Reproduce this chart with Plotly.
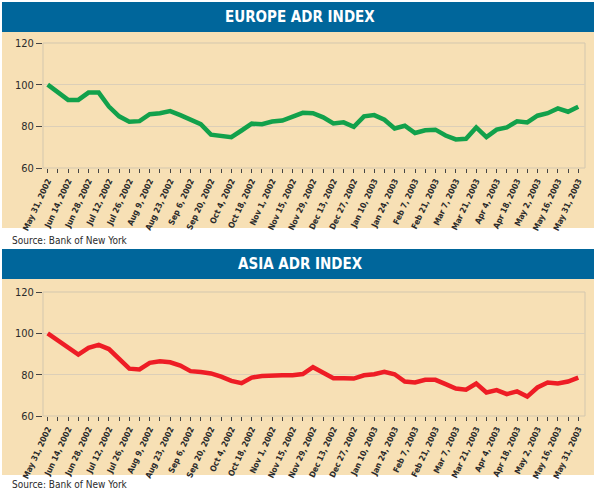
import plotly.graph_objects as go

# ---- data ----
tick_labels = [
    "May 31, 2002", "Jun 14, 2002", "Jun 28, 2002", "Jul 12, 2002", "Jul 26, 2002",
    "Aug 9, 2002", "Aug 23, 2002", "Sep 6, 2002", "Sep 20, 2002", "Oct 4, 2002",
    "Oct 18, 2002", "Nov 1, 2002", "Nov 15, 2002", "Nov 29, 2002", "Dec 13, 2002",
    "Dec 27, 2002", "Jan 10, 2003", "Jan 24, 2003", "Feb 7, 2003", "Feb 21, 2003",
    "Mar 7, 2003", "Mar 21, 2003", "Apr 4, 2003", "Apr 18, 2003", "May 2, 2003",
    "May 16, 2003", "May 31, 2003",
]
europe = [100, 96.3, 92.7, 92.7, 96.2, 96.2, 89.5, 84.8, 82.2, 82.5,
          85.8, 86.3, 87.3, 85.4, 83.0, 81.0, 76.0, 75.5, 74.8, 78.0,
          81.3, 81.0, 82.3, 82.8, 84.8, 86.5, 86.3, 84.3, 81.4, 81.9,
          79.8, 84.8, 85.4, 83.2, 79.0, 80.3, 76.8, 78.1, 78.4, 75.6,
          73.7, 74.0, 79.5, 74.8, 78.4, 79.5, 82.4, 81.9, 85.1, 86.3,
          88.6, 87.0, 89.4]
asia = [100, 96.5, 93.0, 89.7, 93.0, 94.4, 92.4, 87.6, 82.9, 82.5,
        85.7, 86.5, 86.0, 84.4, 81.7, 81.3, 80.6, 79.0, 77.0, 75.9,
        78.6, 79.4, 79.7, 79.7, 79.7, 80.3, 83.6, 81.0, 78.3, 78.3,
        78.1, 79.7, 80.2, 81.4, 80.2, 76.7, 76.2, 77.5, 77.5, 75.4,
        73.3, 72.7, 75.7, 71.4, 72.5, 70.6, 71.9, 69.4, 73.8, 76.2,
        75.7, 76.7, 78.6]
y_ticks = [60, 80, 100, 120]

weeks = list(range(len(europe)))
tickvals = weeks
ticktext = [tick_labels[i // 2] if i % 2 == 0 else "" for i in weeks]

W, H = 600, 493
def py(p):
    return 1 - p / H

BLUE = "#00669B"
TAN = "#F7E0B5"
CREAM = "#FBF1E1"
GRID = "#DCCFB8"
TXT = "#2b2b2b"
FONT = "Liberation Sans Narrow, DejaVu Sans Condensed, Arial Narrow, sans-serif"

fig = go.Figure()
fig.add_trace(go.Scatter(x=weeks, y=europe, mode="lines", xaxis="x", yaxis="y",
                         line=dict(color="#12A14B", width=4.5), hoverinfo="skip"))
fig.add_trace(go.Scatter(x=weeks, y=asia, mode="lines", xaxis="x2", yaxis="y2",
                         line=dict(color="#EE1D25", width=4.5), hoverinfo="skip"))

x0, x1 = 43, 585
panels = [
    dict(ban=(2, 32), tan=(32, 228), plot=(43, 168), title="EUROPE ADR INDEX", src=240),
    dict(ban=(249, 279), tan=(279, 475), plot=(292, 416), title="ASIA ADR INDEX", src=484),
]

shapes = []
annotations = []
for p in panels:
    shapes.append(dict(type="rect", xref="paper", yref="paper", x0=2 / W, x1=594 / W,
                       y0=py(p["tan"][1]), y1=py(p["tan"][0]), fillcolor=TAN,
                       line=dict(width=0), layer="below"))
    shapes.append(dict(type="rect", xref="paper", yref="paper", x0=2 / W, x1=594 / W,
                       y0=py(p["ban"][1]), y1=py(p["ban"][0]), fillcolor=BLUE,
                       line=dict(width=0), layer="below"))
    shapes.append(dict(type="rect", xref="paper", yref="paper", x0=x0 / W, x1=x1 / W,
                       y0=py(p["plot"][1]), y1=py(p["plot"][0]),
                       line=dict(color="#D3C7AE", width=1), fillcolor="rgba(0,0,0,0)",
                       layer="below"))
    annotations.append(dict(text="<b>" + p["title"] + "</b>", xref="paper", yref="paper",
                            x=300 / W, y=py((p["ban"][0] + p["ban"][1]) / 2),
                            xanchor="center", yanchor="middle", showarrow=False,
                            font=dict(family="DejaVu Sans Condensed, sans-serif",
                                      size=15, color="white")))
    annotations.append(dict(text="Source: Bank of New York", xref="paper", yref="paper",
                            x=10 / W, y=py(p["src"]), xanchor="left", yanchor="middle",
                            showarrow=False,
                            font=dict(family=FONT, size=10, color=TXT)))

xaxis_common = dict(range=[-0.46, 52.66], tickmode="array", tickvals=tickvals,
                    ticktext=ticktext, tickangle=-65, ticks="outside", ticklen=4,
                    tickcolor="#444", tickwidth=1, showgrid=False, zeroline=False,
                    showline=False, fixedrange=True, automargin=False,
                    tickfont=dict(family=FONT, size=8.3, color=TXT, weight="bold"))
yaxis_common = dict(range=[60, 120], tickvals=y_ticks, ticks="outside", ticklen=6,
                    tickcolor="#444", showgrid=True, gridcolor=GRID, gridwidth=1,
                    zeroline=False, showline=False, fixedrange=True, automargin=False,
                    tickfont=dict(family=FONT, size=11, color=TXT))

fig.update_layout(
    width=W, height=H, margin=dict(l=0, r=0, t=0, b=0, autoexpand=False),
    paper_bgcolor="white", plot_bgcolor=CREAM, showlegend=False,
    xaxis=dict(domain=[x0 / W, x1 / W], anchor="y", **xaxis_common),
    yaxis=dict(domain=[py(168), py(43)], anchor="x", **yaxis_common),
    xaxis2=dict(domain=[x0 / W, x1 / W], anchor="y2", **xaxis_common),
    yaxis2=dict(domain=[py(416), py(292)], anchor="x2", **yaxis_common),
    shapes=shapes, annotations=annotations,
)

fig.write_html("out.html")
